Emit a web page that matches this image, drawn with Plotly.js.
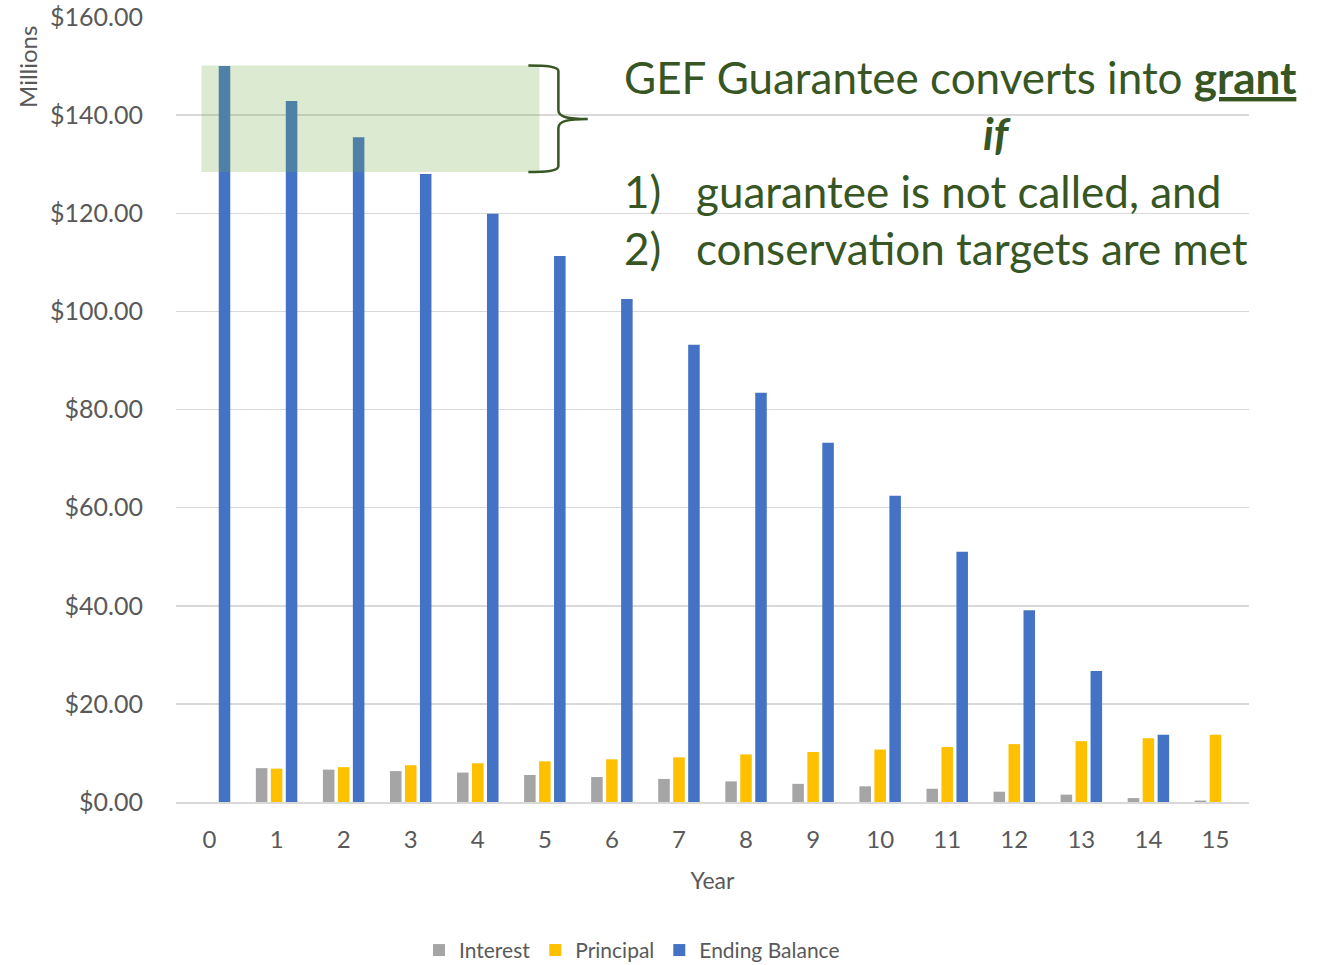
<!DOCTYPE html>
<html><head><meta charset="utf-8">
<script src="https://cdn.plot.ly/plotly-3.0.1.min.js"></script>
<style>html,body{margin:0;padding:0;background:#fff}#chart{width:1322px;height:965px}</style>
</head><body><div id="chart"></div>
<script>
const years = [0,1,2,3,4,5,6,7,8,9,10,11,12,13,14,15];
const interest = [null, 6.9, 6.6, 6.3, 6.0, 5.5, 5.1, 4.7, 4.2, 3.7, 3.2, 2.7, 2.1, 1.5, 0.8, 0.3];
const principal = [null, 6.8, 7.1, 7.5, 7.9, 8.3, 8.7, 9.1, 9.7, 10.2, 10.7, 11.2, 11.8, 12.4, 13.0, 13.7];
const endingBalance = [150, 142.9, 135.5, 128.0, 119.9, 111.3, 102.5, 93.2, 83.4, 73.2, 62.4, 51.0, 39.1, 26.7, 13.7, 0];
const seriesNames = ['Interest', 'Principal', 'Ending Balance'];
const seriesColors = ['#A5A5A5', '#FFC000', '#4472C4'];
const yTicks = [0, 20, 40, 60, 80, 100, 120, 140, 160];
const yTickLabels = ['$0.00', '$20.00', '$40.00', '$60.00', '$80.00', '$100.00', '$120.00', '$140.00', '$160.00'];

const FONT = 'Lato, "Open Sans", sans-serif';
const GREEN = '#375623';
const GREY_TXT = '#595959';
const BIG = 44;

const data = [interest, principal, endingBalance].map((vals, i) => ({
  type: 'bar', x: years, y: vals, name: seriesNames[i],
  marker: {color: seriesColors[i]}, hoverinfo: 'x+y+name'
}));

const PL = 176, PB = 802.5, PW = 1073, PH = 785.5;
const px = v => (v - PL) / PW;
const py = v => (PB - v) / PH;

const layout = {
  width: 1322, height: 965,
  margin: {l: 176, r: 73, t: 17, b: 162.5, autoexpand: false},
  paper_bgcolor: '#fff', plot_bgcolor: '#fff',
  font: {family: FONT, color: GREY_TXT},
  barmode: 'group', bargap: 0.33, bargroupgap: 0.23,
  showlegend: true,
  legend: {orientation: 'h', x: px(632), xanchor: 'center', y: py(951), yanchor: 'middle',
           font: {size: 21, color: GREY_TXT, family: FONT}, itemwidth: 30, traceorder: 'normal'},
  xaxis: {
    type: 'linear', range: [-0.5, 15.5], tickmode: 'array', tickvals: years,
    showgrid: false, zeroline: false, showline: true, linecolor: '#D9D9D9', linewidth: 1.5,
    ticks: '', ticklabelstandoff: 16, automargin: false,
    tickfont: {size: 24, color: GREY_TXT},
    title: {text: 'Year', font: {size: 23, color: GREY_TXT}, standoff: 20}
  },
  yaxis: {
    range: [0, 160], tickmode: 'array', tickvals: yTicks, ticktext: yTickLabels,
    showgrid: true, gridcolor: '#D9D9D9', gridwidth: 1.5, automargin: false,
    zeroline: false, showline: false, ticks: '', ticklabelstandoff: 32,
    tickfont: {size: 25, color: GREY_TXT}
  },
  shapes: [
    {type: 'rect', xref: 'x', yref: 'y', x0: -0.12, x1: 4.92, y0: 128.4, y1: 150.1,
     fillcolor: 'rgba(112,173,71,0.25)', line: {width: 0}, layer: 'above'},
    {type: 'path', xref: 'x', yref: 'y', layer: 'above',
     path: 'M 4.754,150.12 C 5.0,150.12 5.202,150.0 5.202,149.0 L 5.202,141.0 C 5.202,139.6 5.35,139.2 5.64,139.2 M 5.64,139.2 C 5.35,139.2 5.202,138.8 5.202,137.4 L 5.202,129.6 C 5.202,128.6 5.0,128.4 4.754,128.4',
     line: {color: GREEN, width: 2.5}}
  ],
  annotations: [
    {text: 'Millions', xref: 'paper', yref: 'paper', x: px(28), y: py(67), textangle: -90,
     xanchor: 'center', yanchor: 'middle',
     showarrow: false, font: {size: 24, color: GREY_TXT}},
    {text: 'GEF Guarantee converts into <b><u>grant</u></b>', xref: 'paper', yref: 'paper',
     x: px(622), xanchor: 'left', y: py(77), yanchor: 'middle',
     showarrow: false, font: {size: BIG, color: GREEN}},
    {text: '<b><i>if</i></b>', xref: 'paper', yref: 'paper',
     x: px(997), xanchor: 'center', y: py(133), yanchor: 'middle',
     showarrow: false, font: {size: BIG, color: GREEN}},
    {text: '1)', xref: 'paper', yref: 'paper',
     x: px(622), xanchor: 'left', y: py(191), yanchor: 'middle',
     showarrow: false, font: {size: BIG, color: GREEN}},
    {text: 'guarantee is not called, and', xref: 'paper', yref: 'paper',
     x: px(694), xanchor: 'left', y: py(191), yanchor: 'middle',
     showarrow: false, font: {size: BIG, color: GREEN}},
    {text: '2)', xref: 'paper', yref: 'paper',
     x: px(622), xanchor: 'left', y: py(248), yanchor: 'middle',
     showarrow: false, font: {size: BIG, color: GREEN}},
    {text: 'conservation targets are met', xref: 'paper', yref: 'paper',
     x: px(694), xanchor: 'left', y: py(248), yanchor: 'middle',
     showarrow: false, font: {size: BIG, color: GREEN}}
  ]
};

Plotly.newPlot('chart', data, layout, {displayModeBar: false, staticPlot: true});
</script></body></html>
